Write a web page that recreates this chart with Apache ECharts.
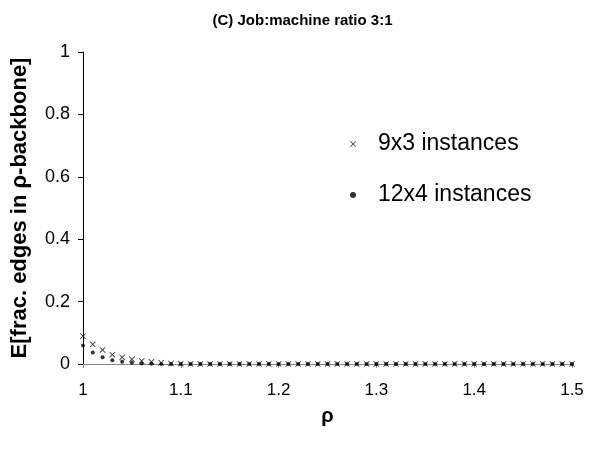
<!DOCTYPE html>
<html>
<head>
<meta charset="utf-8">
<script src="https://cdn.jsdelivr.net/npm/echarts@6/dist/echarts.min.js"></script>
<style>
  html, body { margin: 0; padding: 0; background: #fff; }
  #chart { width: 605px; height: 465px; }
</style>
</head>
<body>
<div id="chart"></div>
<script>
const rho = [1.00, 1.01, 1.02, 1.03, 1.04, 1.05, 1.06, 1.07, 1.08, 1.09,
  1.10, 1.11, 1.12, 1.13, 1.14, 1.15, 1.16, 1.17, 1.18, 1.19,
  1.20, 1.21, 1.22, 1.23, 1.24, 1.25, 1.26, 1.27, 1.28, 1.29,
  1.30, 1.31, 1.32, 1.33, 1.34, 1.35, 1.36, 1.37, 1.38, 1.39,
  1.40, 1.41, 1.42, 1.43, 1.44, 1.45, 1.46, 1.47, 1.48, 1.49, 1.50]
const inst9x3 = [0.089, 0.063, 0.045, 0.030, 0.021, 0.015, 0.010, 0.007, 0.004, 0.002,
  0.001, 0, 0, 0, 0, 0, 0, 0, 0, 0,
  0, 0, 0, 0, 0, 0, 0, 0, 0, 0,
  0, 0, 0, 0, 0, 0, 0, 0, 0, 0,
  0, 0, 0, 0, 0, 0, 0, 0, 0, 0, 0]
const inst12x4 = [0.059, 0.037, 0.022, 0.012, 0.007, 0.004, 0.002, 0.001, 0, 0,
  0, 0, 0, 0, 0, 0, 0, 0, 0, 0,
  0, 0, 0, 0, 0, 0, 0, 0, 0, 0,
  0, 0, 0, 0, 0, 0, 0, 0, 0, 0,
  0, 0, 0, 0, 0, 0, 0, 0, 0, 0, 0]
const seriesNames = ['9x3 instances', '12x4 instances']

const font = '"Liberation Sans", Arial, sans-serif'
// small "x" marker drawn as a filled outline
const cross = 'path://M0,1L1,0L5,4L9,0L10,1L6,5L10,9L9,10L5,6L1,10L0,9L4,5Z'

const pairs = ys => rho.map((x, i) => [x, ys[i]])
const fmt = v => String(Math.round(v * 10) / 10)

echarts.init(document.getElementById('chart')).setOption({
  backgroundColor: '#fff',
  animation: false,
  textStyle: { fontFamily: font },
  title: {
    text: '(C) Job:machine ratio 3:1',
    left: 'center',
    top: 8,
    textStyle: { fontSize: 15, fontWeight: 'bold', color: '#000', fontFamily: font }
  },
  legend: {
    orient: 'vertical',
    left: 345,
    top: 127,
    itemGap: 27,
    itemWidth: 6,
    itemHeight: 6,
    data: [
      { name: seriesNames[0], icon: cross, itemStyle: { color: '#000' } },
      { name: seriesNames[1], icon: 'circle', itemStyle: { color: '#000' } }
    ],
    textStyle: { fontSize: 23, lineHeight: 24, color: '#000', fontFamily: font, padding: [0, 0, 0, 17] }
  },
  grid: { left: 83, right: 33, top: 52, bottom: 101 },
  xAxis: {
    type: 'value',
    min: 1,
    max: 1.5,
    interval: 0.1,
    name: 'ρ',
    nameLocation: 'middle',
    nameGap: 42,
    nameTextStyle: { fontSize: 20, fontWeight: 'bold', color: '#000', fontFamily: font },
    axisLine: { onZero: false, lineStyle: { color: '#868686', width: 1 } },
    axisTick: { length: 4, lineStyle: { color: '#868686' } },
    axisLabel: { fontSize: 17, color: '#000', margin: 18, formatter: fmt },
    splitLine: { show: false }
  },
  yAxis: {
    type: 'value',
    min: 0,
    max: 1,
    interval: 0.2,
    name: 'E[frac. edges in ρ-backbone]',
    nameLocation: 'middle',
    nameGap: 52,
    nameTextStyle: { fontSize: 22, fontWeight: 'bold', color: '#000', fontFamily: font },
    axisLine: { show: true, lineStyle: { color: '#000', width: 1 } },
    axisTick: { show: true, length: 5, lineStyle: { color: '#000' } },
    axisLabel: { fontSize: 18, color: '#000', margin: 13, formatter: fmt },
    splitLine: { show: false }
  },
  series: [
    {
      name: seriesNames[0],
      type: 'scatter',
      symbol: cross,
      symbolSize: 6,
      itemStyle: { color: '#000' },
      data: pairs(inst9x3)
    },
    {
      name: seriesNames[1],
      type: 'scatter',
      symbol: 'circle',
      symbolSize: 4,
      itemStyle: { color: '#000' },
      data: pairs(inst12x4)
    }
  ]
})
</script>
</body>
</html>
